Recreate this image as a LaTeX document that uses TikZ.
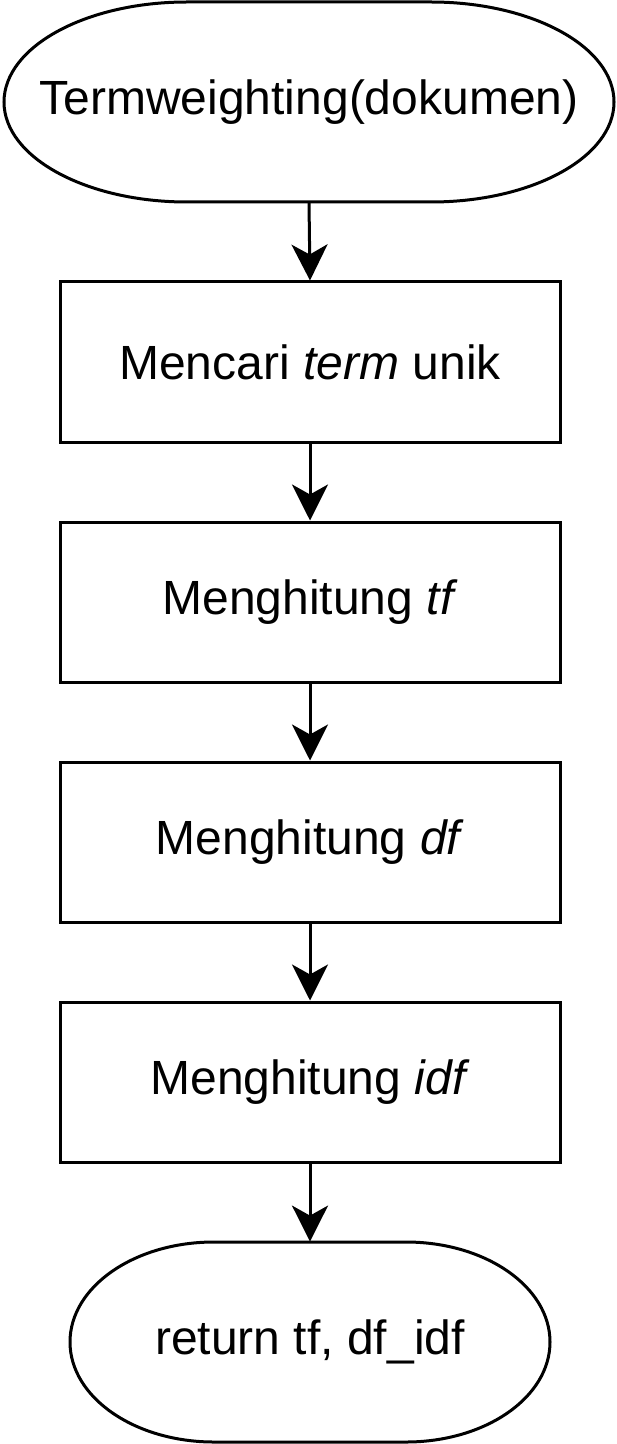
\documentclass[tikz,border=0pt]{standalone}
\usepackage{fontspec}
\setmainfont{Liberation Sans}
\usetikzlibrary{arrows.meta}
\tikzset{
  txt/.style={font=\fontsize{24pt}{28pt}\selectfont, inner sep=0pt},
  box/.style={txt, draw, line width=1.5pt, minimum width=250pt, minimum height=80pt},
  termnode/.style={txt, minimum height=100pt},
  outline/.style={draw, line width=1.5pt, fill=white},
  flow/.style={line width=1.5pt, -{Stealth[length=18pt,width=18pt,inset=5pt]}},
}
\begin{document}
\begin{tikzpicture}[x=0.5pt,y=-0.5pt]
\useasboundingbox (0,0) rectangle (616,1444);
% start terminator
\draw[outline] (309,102) ++(-122,-100) -- ++(244,0)
  arc[start angle=90, end angle=-90, x radius=91.5pt, y radius=50pt]
  -- ++(-244,0)
  arc[start angle=270, end angle=90, x radius=91.5pt, y radius=50pt] -- cycle;
\node[termnode, minimum width=305pt] (start) at (309,102) {Termweighting(dokumen)};
\node[box] (s1) at (310,362) {Mencari \textit{term} unik};
\node[box] (s2) at (310,602) {Menghitung \textit{tf}};
\node[box] (s3) at (310,842) {Menghitung \textit{df}};
\node[box] (s4) at (310,1082) {Menghitung \textit{idf}};
% end terminator
\draw[outline] (310,1342) ++(-96,-100) -- ++(192,0)
  arc[start angle=90, end angle=-90, x radius=72pt, y radius=50pt]
  -- ++(-192,0)
  arc[start angle=270, end angle=90, x radius=72pt, y radius=50pt] -- cycle;
\node[termnode, minimum width=240pt] (end) at (310,1342) {return tf, df\_idf};
\draw[flow] (start.south) -- (s1.north);
\draw[flow] (s1.south) -- (s2.north);
\draw[flow] (s2.south) -- (s3.north);
\draw[flow] (s3.south) -- (s4.north);
\draw[flow] (s4.south) -- (end.north);
\end{tikzpicture}
\end{document}
